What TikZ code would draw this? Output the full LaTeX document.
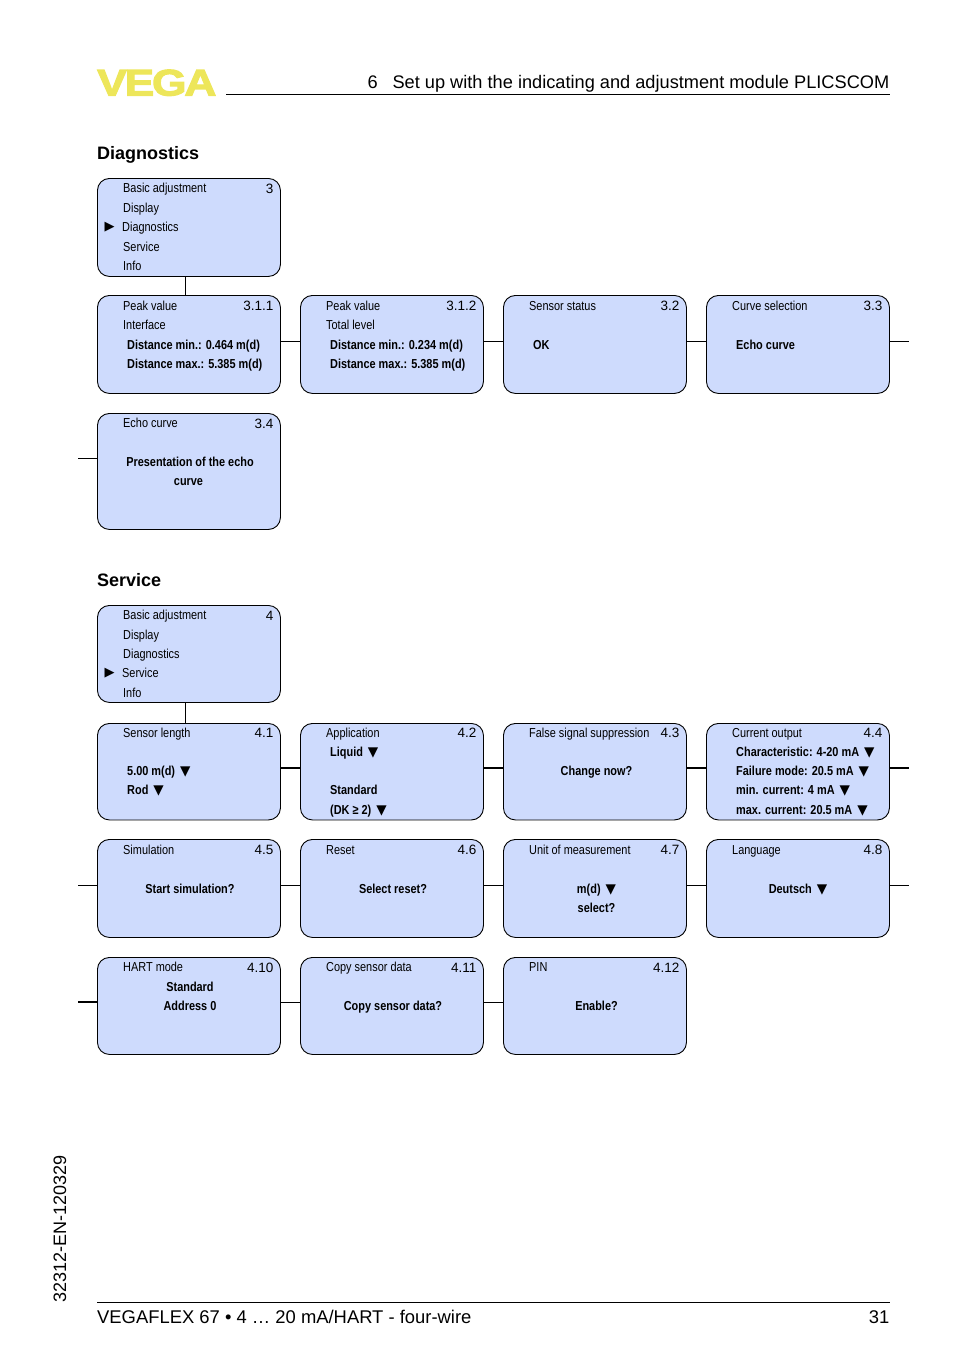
\documentclass[tikz,border=0pt]{standalone}
\usepackage{fontspec}
\setmainfont{Liberation Sans}
\newfontfamily\narrowfont[FakeStretch=0.84]{Liberation Sans}
\newfontfamily\symbolfont{DejaVu Sans}
\newfontfamily\logofont[FakeStretch=1.2,FakeBold=3,LetterSpace=-6]{Liberation Sans Bold}
\newcommand{\dnmark}{{\symbolfont\fontsize{13.5}{15}\selectfont ▼}}
\definecolor{boxblue}{HTML}{CEDBFD}
\definecolor{logoyellow}{HTML}{EDE65A}
\tikzset{
  menubox/.style={draw=black, fill=boxblue, rounded corners=12pt, line width=0.9pt,
    minimum width=183pt, inner sep=0pt, anchor=north west},
  txt/.style={anchor=base west, inner sep=0pt, font=\narrowfont\fontsize{13}{15}\selectfont},
  bld/.style={anchor=base west, inner sep=0pt, font=\narrowfont\bfseries\fontsize{13}{15}\selectfont},
  bldc/.style={bld, anchor=base},
  num/.style={anchor=base east, inner sep=0pt, font=\fontsize{13.5}{15}\selectfont},
  heading/.style={anchor=base west, inner sep=0pt, font=\bfseries\fontsize{18}{20}\selectfont},
  page/.style={inner sep=0pt, font=\fontsize{18.4}{20}\selectfont},
  link/.style={line width=0.9pt},
  heavylink/.style={line width=1.6pt}
}
\begin{document}
\begin{tikzpicture}[x=1pt,y=-1pt]
\useasboundingbox (0,0) rectangle (954,1354);

% page head
\node[anchor=base west, inner sep=0pt, text=logoyellow, font=\logofont\fontsize{37}{42}\selectfont] (logo) at (97,95.5) {VEGA};
\node[anchor=base east, inner sep=0pt, font=\fontsize{18.2}{20}\selectfont] (headtext) at (889.5,88.5) {6\hspace{0.82em}Set up with the indicating and adjustment module PLICSCOM};
\coordinate (headl) at (226,94.5);
\coordinate (headr) at (890,94.5);
\draw[link] (headl) -- (headr);

% Diagnostics
\node[heading] (diaghead) at (97,159) {Diagnostics};

\node[menubox, minimum height=98pt] (d0) at (97,178) {};
\node[txt] (d0a) at (123,192.5) {Basic adjustment};
\node[txt] (d0b) at (123,212) {Display};
\node[txt] (d0c) at (122,231.5) {Diagnostics};
\node[txt] (d0d) at (123,251) {Service};
\node[txt] (d0e) at (123,270) {Info};
\node[num] (d0n) at (273.5,193) {3};
\node[anchor=base west, inner sep=0pt, font=\symbolfont\fontsize{13}{15}\selectfont] (d0m) at (104.5,230) {▶};

\node[menubox, minimum height=98pt] (p1) at (97,295) {};
\node[txt] (p1a) at (123,310) {Peak value};
\node[txt] (p1b) at (123,329) {Interface};
\node[bld] (p1c) at (127,349) {Distance min.: 0.464 m(d)};
\node[bld] (p1d) at (127,368) {Distance max.: 5.385 m(d)};
\node[num] (p1n) at (273.5,310) {3.1.1};

\node[menubox, minimum height=98pt] (p2) at (300,295) {};
\node[txt] (p2a) at (326,310) {Peak value};
\node[txt] (p2b) at (326,329) {Total level};
\node[bld] (p2c) at (330,349) {Distance min.: 0.234 m(d)};
\node[bld] (p2d) at (330,368) {Distance max.: 5.385 m(d)};
\node[num] (p2n) at (476.5,310) {3.1.2};

\node[menubox, minimum height=98pt] (p3) at (503,295) {};
\node[txt] (p3a) at (529,310) {Sensor status};
\node[bld] (p3c) at (533,349) {OK};
\node[num] (p3n) at (679.5,310) {3.2};

\node[menubox, minimum height=98pt] (p4) at (706,295) {};
\node[txt] (p4a) at (732,310) {Curve selection};
\node[bld] (p4c) at (736,349) {Echo curve};
\node[num] (p4n) at (882.5,310) {3.3};

\node[menubox, minimum height=116pt] (p5) at (97,413) {};
\node[txt] (p5a) at (123,427) {Echo curve};
\node[bldc] (p5c) at (190,466) {Presentation of the echo};
\node[bldc] (p5d) at (188.5,485) {curve};
\node[num] (p5n) at (273.5,428) {3.4};

\coordinate (p4end) at (909,341.5);
\coordinate (p5end) at (78,458);
\draw[link] ([xshift=-3.5pt]d0.south) -- ([xshift=-3.5pt]p1.north);
\draw[link] (p4end -| p1.east) -- (p4end -| p2.west);
\draw[link] (p4end -| p2.east) -- (p4end -| p3.west);
\draw[link] (p4end -| p3.east) -- (p4end -| p4.west);
\draw[link] (p4end -| p4.east) -- (p4end);
\draw[link] (p5end) -- (p5end -| p5.west);

% Service
\node[heading] (servhead) at (97,586) {Service};

\node[menubox, minimum height=97pt] (s0) at (97,605) {};
\node[txt] (s0a) at (123,619) {Basic adjustment};
\node[txt] (s0b) at (123,639) {Display};
\node[txt] (s0c) at (123,658) {Diagnostics};
\node[txt] (s0d) at (122,677) {Service};
\node[txt] (s0e) at (123,697) {Info};
\node[num] (s0n) at (273.5,620) {4};
\node[anchor=base west, inner sep=0pt, font=\symbolfont\fontsize{13}{15}\selectfont] (s0m) at (104.5,676) {▶};

\node[menubox, minimum height=96.5pt] (s1) at (97,723) {};
\node[txt] (s1a) at (123,737) {Sensor length};
\node[bld] (s1c) at (127,775) {5.00 m(d)\hspace{5pt}\dnmark};
\node[bld] (s1d) at (127,794.5) {Rod\hspace{5pt}\dnmark};
\node[num] (s1n) at (273.5,737) {4.1};

\node[menubox, minimum height=96.5pt] (s2) at (300,723) {};
\node[txt] (s2a) at (326,737) {Application};
\node[bld] (s2b) at (330,756) {Liquid\hspace{5pt}\dnmark};
\node[bld] (s2c) at (330,794.5) {Standard};
\node[bld] (s2d) at (330,814) {(DK ≥ 2)\hspace{5pt}\dnmark};
\node[num] (s2n) at (476.5,737) {4.2};

\node[menubox, minimum height=96.5pt] (s3) at (503,723) {};
\node[txt] (s3a) at (529,737) {False signal suppression};
\node[bldc] (s3c) at (596.5,775) {Change now?};
\node[num] (s3n) at (679.5,737) {4.3};

\node[menubox, minimum height=96.5pt] (s4) at (706,723) {};
\node[txt] (s4a) at (732,737) {Current output};
\node[bld] (s4b) at (736,756) {Characteristic: 4-20 mA\hspace{5pt}\dnmark};
\node[bld] (s4c) at (736,775) {Failure mode: 20.5 mA\hspace{5pt}\dnmark};
\node[bld] (s4d) at (736,794.5) {min. current: 4 mA\hspace{5pt}\dnmark};
\node[bld] (s4e) at (736,814) {max. current: 20.5 mA\hspace{5pt}\dnmark};
\node[num] (s4n) at (882.5,737) {4.4};

\node[menubox, minimum height=98pt] (s5) at (97,839) {};
\node[txt] (s5a) at (123,854) {Simulation};
\node[bldc] (s5c) at (190,893) {Start simulation?};
\node[num] (s5n) at (273.5,854) {4.5};

\node[menubox, minimum height=98pt] (s6) at (300,839) {};
\node[txt] (s6a) at (326,854) {Reset};
\node[bldc] (s6c) at (393,893) {Select reset?};
\node[num] (s6n) at (476.5,854) {4.6};

\node[menubox, minimum height=98pt] (s7) at (503,839) {};
\node[txt] (s7a) at (529,854) {Unit of measurement};
\node[bldc] (s7c) at (596.5,893) {m(d)\hspace{5pt}\dnmark};
\node[bldc] (s7d) at (596.5,912) {select?};
\node[num] (s7n) at (679.5,854) {4.7};

\node[menubox, minimum height=98pt] (s8) at (706,839) {};
\node[txt] (s8a) at (732,854) {Language};
\node[bldc] (s8c) at (798,893) {Deutsch\hspace{5pt}\dnmark};
\node[num] (s8n) at (882.5,854) {4.8};

\node[menubox, minimum height=97pt] (s9) at (97,957) {};
\node[txt] (s9a) at (123,971) {HART mode};
\node[bldc] (s9b) at (190,991) {Standard};
\node[bldc] (s9c) at (190,1010) {Address 0};
\node[num] (s9n) at (273.5,972) {4.10};

\node[menubox, minimum height=97pt] (s10) at (300,957) {};
\node[txt] (s10a) at (326,971) {Copy sensor data};
\node[bldc] (s10c) at (393,1010) {Copy sensor data?};
\node[num] (s10n) at (476.5,972) {4.11};

\node[menubox, minimum height=97pt] (s11) at (503,957) {};
\node[txt] (s11a) at (529,971) {PIN};
\node[bldc] (s11c) at (596.5,1010) {Enable?};
\node[num] (s11n) at (679.5,972) {4.12};

\coordinate (s4end) at (909,768);
\coordinate (s5end) at (78,885);
\coordinate (s8end) at (909,885);
\coordinate (s9end) at (78,1002);
\draw[link] ([xshift=-3.5pt]s0.south) -- ([xshift=-3.5pt]s1.north);
\draw[heavylink] (s4end -| s1.east) -- (s4end -| s2.west);
\draw[heavylink] (s4end -| s2.east) -- (s4end -| s3.west);
\draw[heavylink] (s4end -| s3.east) -- (s4end -| s4.west);
\draw[heavylink] (s4end -| s4.east) -- (s4end);
\draw[link] (s5end) -- (s5end -| s5.west);
\draw[link] (s5end -| s5.east) -- (s5end -| s6.west);
\draw[link] (s5end -| s6.east) -- (s5end -| s7.west);
\draw[link] (s5end -| s7.east) -- (s5end -| s8.west);
\draw[link] (s8end -| s8.east) -- (s8end);
\draw[heavylink] (s9end) -- (s9end -| s9.west);
\draw[link] (s9end -| s9.east) -- (s9end -| s10.west);
\draw[link] (s9end -| s10.east) -- (s9end -| s11.west);

% page foot
\node[anchor=base west, rotate=90, inner sep=0pt, font=\fontsize{18}{20}\selectfont] (docnum) at (66,1303) {32312-EN-120329};
\coordinate (footl) at (97,1302.5);
\coordinate (footr) at (890,1302.5);
\draw[link] (footl) -- (footr);
\node[page, anchor=base west] (foottext) at (97,1323) {VEGAFLEX 67 • 4 … 20 mA/HART - four-wire};
\node[page, anchor=base east] (pageno) at (889.5,1323) {31};
\end{tikzpicture}
\end{document}
